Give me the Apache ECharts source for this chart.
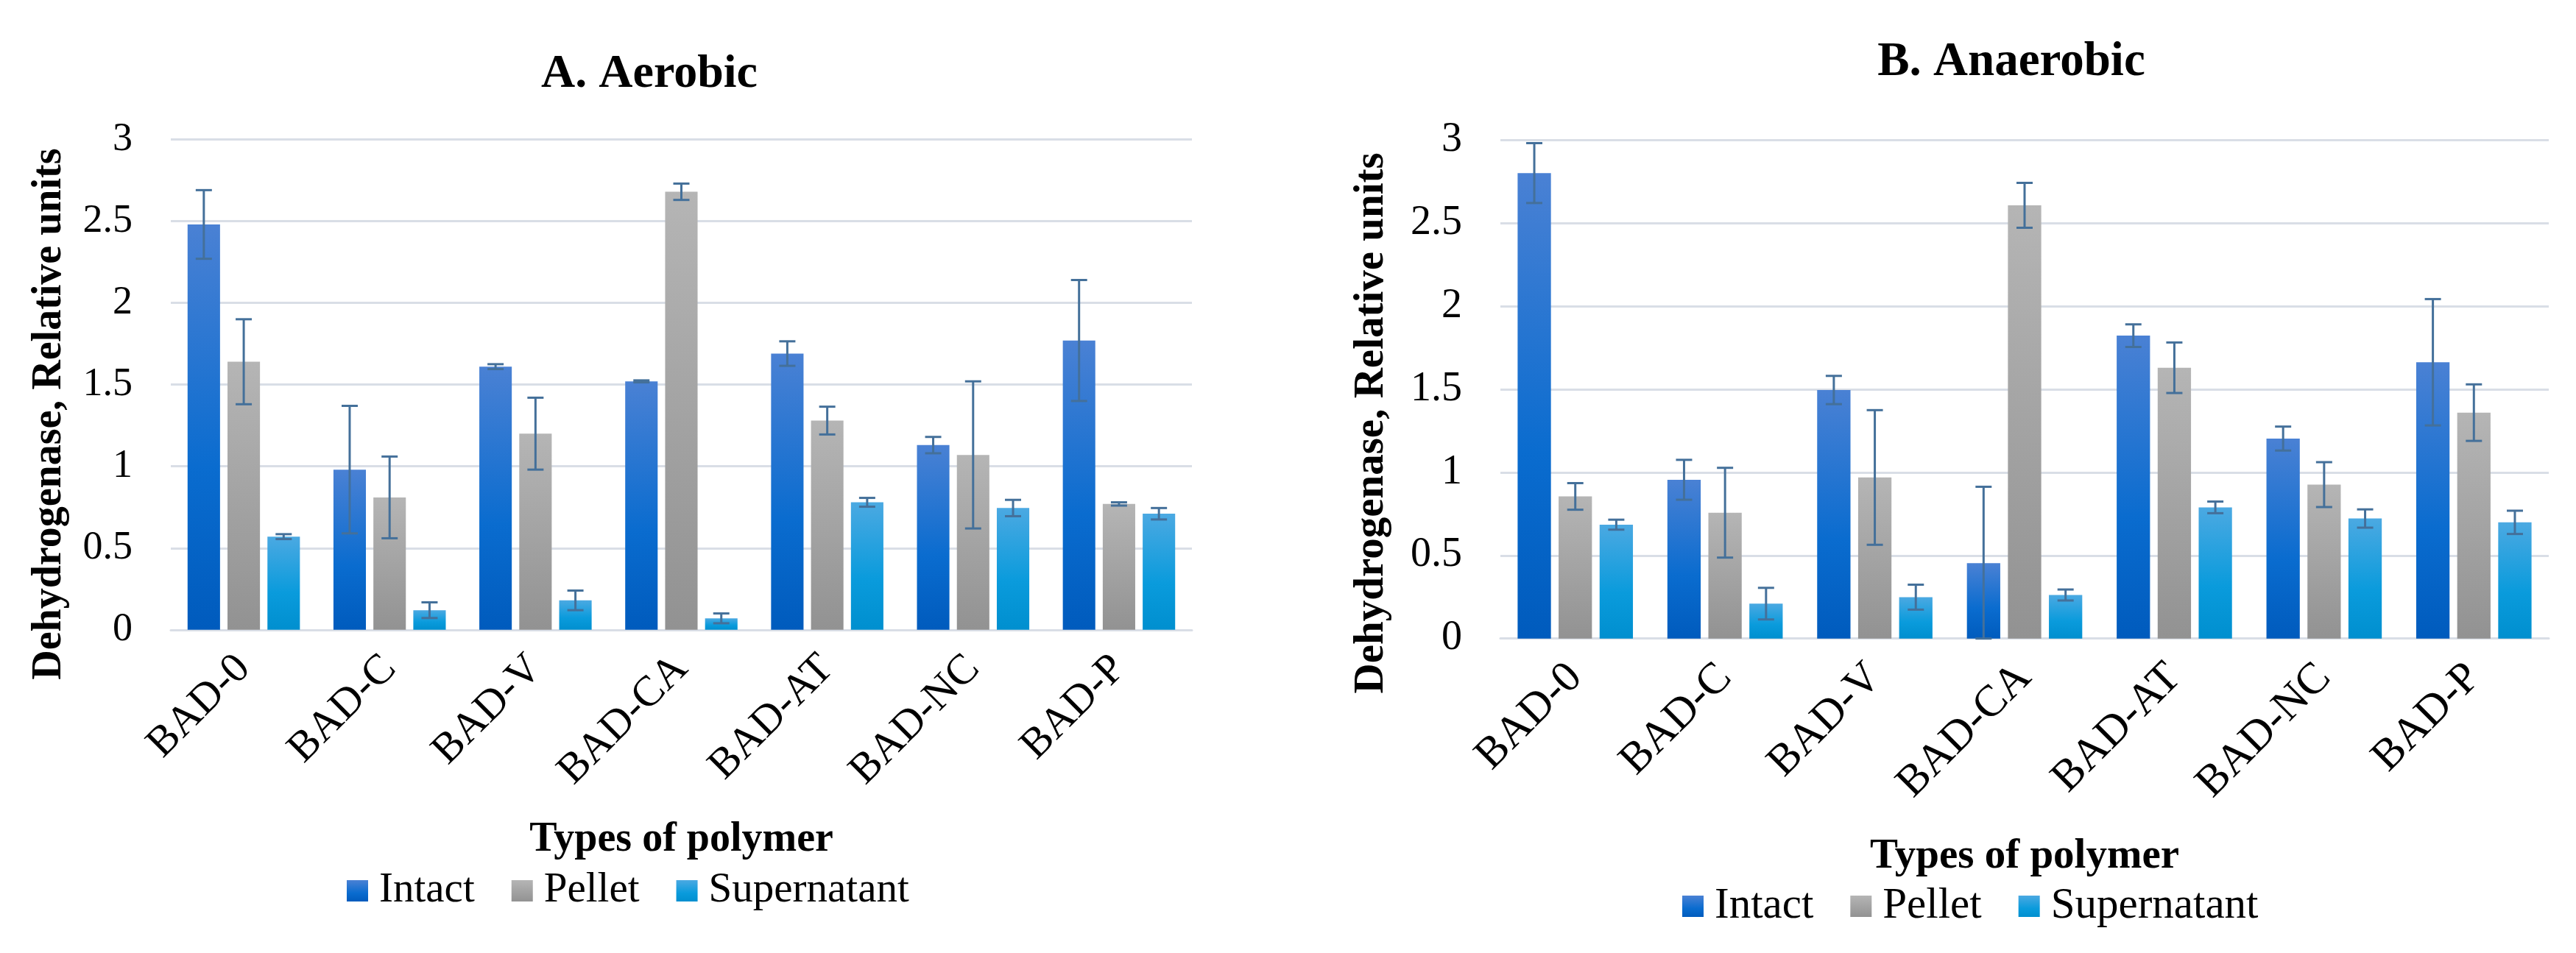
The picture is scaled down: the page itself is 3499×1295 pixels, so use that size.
<!DOCTYPE html>
<html>
<head>
<meta charset="utf-8">
<script src="https://cdn.jsdelivr.net/npm/echarts@6/dist/echarts.min.js"></script>
<style>
html,body{margin:0;padding:0;background:#fff;}
#chart{width:3499px;height:1295px;}
</style>
</head>
<body>
<div id="chart"></div>
<script>
const categories = ['BAD-0', 'BAD-C', 'BAD-V', 'BAD-CA', 'BAD-AT', 'BAD-NC', 'BAD-P'];
const seriesNames = ['Intact', 'Pellet', 'Supernatant'];
const yTicks = [0, 0.5, 1, 1.5, 2, 2.5, 3];

// A. Aerobic
const aerobicIntact      = [2.48, 0.98, 1.61, 1.52, 1.69, 1.13, 1.77];
const aerobicIntactErr   = [0.21, 0.39, 0.015, 0.006, 0.075, 0.05, 0.37];
const aerobicPellet      = [1.64, 0.81, 1.20, 2.68, 1.28, 1.07, 0.77];
const aerobicPelletErr   = [0.26, 0.25, 0.22, 0.05, 0.085, 0.45, 0.01];
const aerobicSuper       = [0.57, 0.12, 0.18, 0.07, 0.78, 0.745, 0.71];
const aerobicSuperErr    = [0.015, 0.048, 0.06, 0.03, 0.027, 0.05, 0.035];

// B. Anaerobic
const anaerobicIntact    = [2.80, 0.955, 1.495, 0.453, 1.822, 1.203, 1.662];
const anaerobicIntactErr = [0.18, 0.12, 0.085, 0.46, 0.068, 0.072, 0.38];
const anaerobicPellet    = [0.855, 0.757, 0.969, 2.606, 1.629, 0.926, 1.359];
const anaerobicPelletErr = [0.08, 0.27, 0.405, 0.135, 0.152, 0.135, 0.17];
const anaerobicSuper     = [0.685, 0.21, 0.249, 0.262, 0.789, 0.722, 0.699];
const anaerobicSuperErr  = [0.03, 0.095, 0.075, 0.033, 0.035, 0.055, 0.07];

const FONT = "'Liberation Serif', 'Times New Roman', serif";
const CAT_GAP = 0.23, BAR_GAP = 0.23;

function grad(stops) {
  return { type: 'linear', x: 0, y: 0, x2: 0, y2: 1,
    colorStops: stops.map(s => ({ offset: s[0], color: s[1] })) };
}
const colors = [
  grad([[0, '#4a81d4'], [0.6, '#0a6ccf'], [1, '#005bbd']]),
  grad([[0, '#b5b5b5'], [1, '#929292']]),
  grad([[0, '#4ba9e2'], [0.6, '#0a9bdc'], [1, '#008fcf']])
];

const chartSets = [
  { vals: [aerobicIntact, aerobicPellet, aerobicSuper], errs: [aerobicIntactErr, aerobicPelletErr, aerobicSuperErr] },
  { vals: [anaerobicIntact, anaerobicPellet, anaerobicSuper], errs: [anaerobicIntactErr, anaerobicPelletErr, anaerobicSuperErr] }
];

function errRender(idx) {
  return function (params, api) {
    const x = api.value(0), v = api.value(1), e = api.value(2);
    const band = api.size([1, 0])[0];
    const n = seriesNames.length;
    const remain = band - band * CAT_GAP;
    const bw = remain / (n + (n - 1) * BAR_GAP);
    const off = -remain / 2 + bw / 2 + idx * bw * (1 + BAR_GAP);
    const top = api.coord([x, v + e]);
    const bot = api.coord([x, Math.max(v - e, 0)]);
    const cx = top[0] + off;
    const hw = 11;
    const style = { stroke: '#44709a', lineWidth: 3, fill: null };
    return { type: 'group', children: [
      { type: 'line', shape: { x1: cx, y1: top[1], x2: cx, y2: bot[1] }, style },
      { type: 'line', shape: { x1: cx - hw, y1: top[1], x2: cx + hw, y2: top[1] }, style },
      { type: 'line', shape: { x1: cx - hw, y1: bot[1], x2: cx + hw, y2: bot[1] }, style }
    ]};
  };
}

const series = [];
chartSets.forEach((set, g) => {
  seriesNames.forEach((name, i) => {
    series.push({
      name, type: 'bar', xAxisIndex: g, yAxisIndex: g,
      data: set.vals[i], barCategoryGap: (CAT_GAP * 100) + '%', barGap: (BAR_GAP * 100) + '%',
      itemStyle: { color: colors[i] }, z: 2
    });
  });
  seriesNames.forEach((name, i) => {
    series.push({
      name: name + ' error', type: 'custom', xAxisIndex: g, yAxisIndex: g, z: 5,
      renderItem: errRender(i),
      encode: { x: 0, y: 1 },
      data: set.vals[i].map((v, k) => [k, v, set.errs[i][k]])
    });
  });
});

const gridDefs = [
  { left: 232, top: 189.5, width: 1387, height: 666.3 },
  { left: 2038, top: 190, width: 1424, height: 677.7 }
];

function xAxisDef(g, gap, labelSize, nameSize) {
  return {
    type: 'category', gridIndex: g, data: categories,
    name: 'Types of polymer', nameLocation: 'middle', nameGap: gap,
    nameTextStyle: { fontFamily: FONT, fontWeight: 'bold', fontSize: nameSize, color: '#000' },
    axisLine: { show: true, lineStyle: { color: '#d9dee6', width: 3 } },
    axisTick: { show: false },
    axisLabel: { rotate: 45, fontFamily: FONT, fontSize: labelSize, color: '#000', margin: 44, interval: 0 }
  };
}
function yAxisDef(g, gap, pad, labelSize, nameSize) {
  return {
    type: 'value', gridIndex: g, min: yTicks[0], max: yTicks[yTicks.length - 1], interval: 0.5,
    name: 'Dehydrogenase, Relative units', nameLocation: 'middle', nameGap: gap,
    nameTextStyle: { fontFamily: FONT, fontWeight: 'bold', fontSize: nameSize, color: '#000', padding: [0, pad, 0, 0] },
    axisLine: { show: false }, axisTick: { show: false },
    axisLabel: { fontFamily: FONT, fontSize: labelSize, color: '#000', margin: 52 },
    splitLine: { lineStyle: { color: '#d9dee6', width: 3 } }
  };
}

function legendText(size) {
  return { fontFamily: FONT, fontSize: size, color: '#000', padding: [0, 0, 0, 10] };
}

const option = {
  backgroundColor: '#ffffff',
  animation: false,
  textStyle: { fontFamily: FONT },
  title: [
    { text: 'A. Aerobic', left: 877, top: 64, textAlign: 'center',
      textStyle: { fontFamily: FONT, fontWeight: 'bold', fontSize: 64, color: '#000' } },
    { text: 'B. Anaerobic', left: 2727, top: 48, textAlign: 'center',
      textStyle: { fontFamily: FONT, fontWeight: 'bold', fontSize: 65, color: '#000' } }
  ],
  legend: [
    { data: seriesNames, left: 466, top: 1177, itemWidth: 29, itemHeight: 29, itemGap: 50, textStyle: legendText(57), icon: 'rect' },
    { data: seriesNames, left: 2280, top: 1197, itemWidth: 29, itemHeight: 29, itemGap: 50, textStyle: legendText(59), icon: 'rect' }
  ],
  grid: gridDefs,
  xAxis: [xAxisDef(0, 258, 58, 56), xAxisDef(1, 268, 60, 57)],
  yAxis: [yAxisDef(0, 136, 80, 54, 56), yAxisDef(1, 146, 92, 56, 57)],
  series
};

const chart = echarts.init(document.getElementById('chart'));
chart.setOption(option);
</script>
</body>
</html>
